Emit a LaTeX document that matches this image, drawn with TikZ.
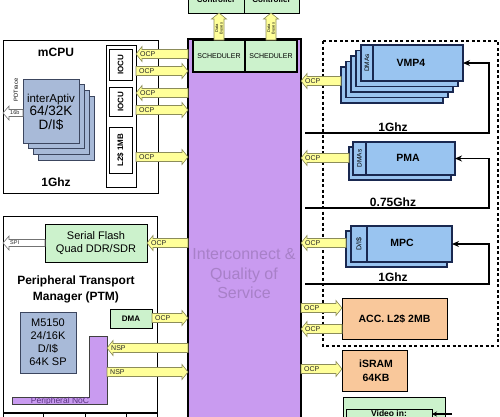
\documentclass[tikz,border=0pt]{standalone}
\usepackage{fontspec}
\setmainfont{Liberation Sans}
\usetikzlibrary{arrows.meta}
\definecolor{ylw}{RGB}{255,255,153}
\definecolor{ylwb}{RGB}{140,140,90}
\definecolor{grn}{RGB}{204,242,204}
\definecolor{prp}{RGB}{201,155,240}
\definecolor{prptxt}{RGB}{168,128,200}
\definecolor{noctxt}{RGB}{90,50,130}
\definecolor{blu}{RGB}{153,196,240}
\definecolor{blud}{RGB}{25,40,80}
\definecolor{sblu}{RGB}{168,186,216}
\definecolor{sblud}{RGB}{60,70,95}
\definecolor{org}{RGB}{249,200,155}
\newcommand\fsz[2]{\fontsize{#1}{#2}\selectfont}
\newcommand\arrR[5]{%
 \filldraw[blk] (#2,{#4-4.5}) -- ({#3-6},{#4-4.5}) -- ({#3-6},{#4-7.5}) -- (#3,#4) -- ({#3-6},{#4+7.5}) -- ({#3-6},{#4+4.5}) -- (#2,{#4+4.5}) -- cycle;
 \node[arrlbl] (#1) at ({#2+3},#4) {#5};}
\newcommand\arrL[5]{%
 \filldraw[blk] (#2,#4) -- ({#2+6},{#4-7.5}) -- ({#2+6},{#4-4.5}) -- (#3,{#4-4.5}) -- (#3,{#4+4.5}) -- ({#2+6},{#4+4.5}) -- ({#2+6},{#4+7.5}) -- cycle;
 \node[arrlbl] (#1) at ({#2+4},#4) {#5};}
\newcommand\garrL[5]{%
 \filldraw[gblk] (#2,#4) -- ({#2+6},{#4-7}) -- ({#2+6},{#4-3.5}) -- (#3,{#4-3.5}) -- (#3,{#4+3.5}) -- ({#2+6},{#4+3.5}) -- ({#2+6},{#4+7}) -- cycle;
 \node[arrlbl,font=\fsz{5.5}{6}] (#1) at ({#2+7},#4) {#5};}
\newcommand\arrU[4]{%
 \filldraw[blk] ({#2-5},#3) -- ({#2-5},{#4+6}) -- ({#2-7.5},{#4+6}) -- (#2,#4) -- ({#2+7.5},{#4+6}) -- ({#2+5},{#4+6}) -- ({#2+5},#3) -- cycle;
 \node[rotate=90,align=center,inner sep=0pt,font=\fsz{4}{4.5}] (#1) at (#2,{(#3+#4)/2+2}) {Data\\Buses};}
\begin{document}
\begin{tikzpicture}[x=1pt,y=-1pt,
  box/.style={draw=black,line width=1pt,anchor=north west,inner sep=0pt,outer sep=0pt},
  blk/.style={fill=ylw,draw=ylwb,line width=0.6pt},
  gblk/.style={fill=white,draw=black!55,line width=0.6pt},
  arrlbl/.style={anchor=west,inner sep=0pt,font=\fsz{7}{8},text=black!85},
  vstk/.style={box,fill=blu,draw=blud,line width=1.1pt},
  istk/.style={box,fill=sblu,draw=sblud,line width=1pt},
  fb/.style={line width=1.3pt,-{Stealth[length=7pt,width=6pt]}},
  big/.style={font=\bfseries\fsz{12}{14},inner sep=0pt},
  mid/.style={font=\bfseries\fsz{10.5}{14},inner sep=0pt,align=center}]
\useasboundingbox (0,0) rectangle (500,416);

% top memory controllers
\node[box,fill=grn,minimum width=56pt,minimum height=28pt] (mc1) at (188,-15) {};
\node[box,fill=grn,minimum width=55pt,minimum height=28pt] (mc2) at (244,-15) {};
\node[font=\bfseries\fsz{8}{9},anchor=base,inner sep=0pt] (mc1t) at (216,2) {Controller};
\node[font=\bfseries\fsz{8}{9},anchor=base,inner sep=0pt] (mc2t) at (271.5,2) {Controller};

% interconnect
\node[box,fill=prp,line width=1.2pt,minimum width=113pt,minimum height=400pt] (ic) at (188,39) {};
\node[font=\fsz{16}{19.5},text=prptxt,align=center,inner sep=0pt] (ict) at (244,274) {Interconnect \&\\Quality of\\Service};
\node[box,fill=grn,line width=1.3pt,minimum width=52pt,minimum height=32pt,font=\fsz{7}{8}] (s1) at (193,40) {SCHEDULER};
\node[box,fill=grn,line width=1.3pt,minimum width=52pt,minimum height=32pt,font=\fsz{7}{8}] (s2) at (245,40) {SCHEDULER};
\arrU{db1}{219}{40}{13}
\arrU{db2}{271}{40}{13}

% mCPU
\node[box,minimum width=155pt,minimum height=153pt] (mcpu) at (3,40) {};
\node[big] (mcput) at (56,52) {mCPU};
\node[big] (mcpuf) at (56,182) {1Ghz};
\foreach \i in {3,2,1} \node[istk,minimum width=56pt,minimum height=64pt] (ia\i) at ({23+5.3*\i},{79+5.7*\i}) {};
\node[istk,minimum width=56pt,minimum height=64pt] (ia) at (23,79) {};
\node[inner sep=0pt,font=\fsz{13.5}{13.5},align=center] (iat) at (51,112) {{\fsz{11.5}{13}interAptiv}\\64/32K\\D/I\$};
\node[rotate=90,inner sep=0pt,font=\fsz{5.8}{6}] (pdt) at (16,90) {PDTrace};
\garrL{b16}{3}{23}{113}{16b}
\node[box,line width=0.8pt,minimum width=30pt,minimum height=142pt] (iob) at (106,45) {};
\node[box,line width=0.8pt,minimum width=23pt,minimum height=31pt] (io1) at (109,49) {};
\node[box,line width=0.8pt,minimum width=23pt,minimum height=29pt] (io2) at (109,87) {};
\node[box,line width=0.8pt,minimum width=23pt,minimum height=46pt] (l2) at (109,127) {};
\node[rotate=90,font=\bfseries\fsz{8}{9},inner sep=0pt] (io1t) at (io1.center) {IOCU};
\node[rotate=90,font=\bfseries\fsz{8}{9},inner sep=0pt] (io2t) at (io2.center) {IOCU};
\node[rotate=90,font=\bfseries\fsz{8}{9},inner sep=0pt] (l2t) at (l2.center) {L2\$ 1MB};
\arrL{o1}{136}{188}{54}{OCP}
\arrR{o2}{136}{188}{71}{OCP}
\arrL{o3}{136}{188}{93}{OCP}
\arrR{o4}{136}{188}{110}{OCP}
\arrR{o5}{136}{188}{157}{OCP}

% right dashed region
\draw[line width=1.4pt,dash pattern=on 3pt off 2.5pt] (323,41) rectangle (498,346);
\foreach \i in {4,3,2,1} \node[vstk,minimum width=102pt,minimum height=36pt] (v\i) at ({361-5*\i},{45+5.5*\i}) {};
\node[vstk,minimum width=102pt,minimum height=36pt] (vmp) at (361,45) {};
\node[vstk,minimum width=12pt,minimum height=36pt] (vdma) at (361,45) {};
\node[rotate=90,inner sep=0pt,font=\fsz{6.5}{7}] (vdmat) at (vdma.center) {DMAs};
\node[mid] (vmpt) at (411,63) {VMP4};

\node[vstk,minimum width=102pt,minimum height=33pt] (p1) at (349,147) {};
\node[vstk,minimum width=102pt,minimum height=33pt] (pma) at (353,142) {};
\node[vstk,minimum width=13pt,minimum height=33pt] (pdma) at (353,142) {};
\node[rotate=90,inner sep=0pt,font=\fsz{6.5}{7}] (pdmat) at (pdma.center) {DMAs};
\node[mid] (pmat) at (408,158) {PMA};

\node[vstk,minimum width=101pt,minimum height=36pt] (m1) at (346,231) {};
\node[vstk,minimum width=101pt,minimum height=36pt] (mpc) at (351,226) {};
\node[vstk,minimum width=16pt,minimum height=36pt] (mdi) at (351,226) {};
\node[rotate=90,inner sep=0pt,font=\fsz{7}{8}] (mdit) at (mdi.center) {D/I\$};
\node[mid] (mpct) at (402,243) {MPC};

\coordinate (g1) at (305,133);
\coordinate (g2) at (305,208);
\coordinate (g3) at (305,284);
\draw[fb] (g1) -- ++(184,0) |- (vmp.east);
\draw[fb] (g2) -- ++(184,0) |- (pma.east);
\draw[fb] (g3) -- ++(184,0) |- (mpc.east);
\node[big] (f1) at (393,127) {1Ghz};
\node[big] (f2) at (393,202) {0.75Ghz};
\node[big] (f3) at (393,277) {1Ghz};

\arrL{r1}{301}{341}{81}{OCP}
\arrL{r2}{301}{349}{158}{OCP}
\arrL{r3}{301}{346}{243}{OCP}

\node[box,fill=org,minimum width=105pt,minimum height=41pt] (acc) at (342,298) {};
\node[mid] (acct) at (acc.center) {ACC. L2\$ 2MB};
\arrR{r4}{301}{342}{308}{OCP}
\arrL{r5}{301}{342}{329}{OCP}
\node[box,fill=org,minimum width=65pt,minimum height=41pt] (isr) at (342,350) {};
\node[mid] (isrt) at (376,370.5) {iSRAM\\64KB};
\arrR{r6}{301}{342}{369}{OCP}

\node[box,fill=grn,minimum width=102pt,minimum height=30pt] (vid) at (343,397) {};
\node[box,fill=grn,minimum width=86pt,minimum height=20pt] (vidin) at (346,409) {};
\node[font=\bfseries\fsz{8.5}{9},anchor=north,inner sep=0pt] (vidt) at (389,410) {Video in:};
\coordinate (vv) at (452,414);
\draw[line width=1.1pt,-{Stealth[length=5pt,width=5pt]}] (vv) -- (vv -| vidin.east);

% PTM
\node[box,minimum width=154pt,minimum height=196pt] (ptm) at (3,216) {};
\node[box,fill=grn,minimum width=102pt,minimum height=38pt,font=\fsz{11}{13},align=center] (sf) at (45,224) {Serial Flash\\Quad DDR/SDR};
\garrL{spi}{3}{45}{243}{SPI}
\arrL{o6}{147}{188}{243}{OCP}
\node[font=\bfseries\fsz{12}{16},align=center,inner sep=0pt] (ptmt) at (76,289) {Peripheral Transport\\Manager (PTM)};
\node[box,fill=sblu,draw=sblud,minimum width=56pt,minimum height=61pt,font=\fsz{11}{13},align=center] (m5) at (20,312) {M5150\\24/16K\\D/I\$\\64K SP};
\node[box,fill=grn,minimum width=42pt,minimum height=19pt,font=\bfseries\fsz{8}{9}] (dma) at (110,309) {DMA};
\arrR{o7}{152}{188}{318}{OCP}
\filldraw[fill=prp,draw=black!75,line width=0.8pt] (89,336) -- (107,336) -- (107,404) -- (12,404) -- (12,397) -- (89,397) -- cycle;
\node[font=\fsz{8.5}{9},text=noctxt,inner sep=0pt] (noc) at (60,401) {Peripheral NoC};
\arrL{n1}{107}{188}{348}{NSP}
\arrR{n2}{107}{188}{372}{NSP}
\node[box,minimum width=40pt,minimum height=20pt] (c1) at (3,413) {};
\node[box,minimum width=42pt,minimum height=20pt] (c2) at (43,413) {};
\node[box,minimum width=41pt,minimum height=20pt] (c3) at (85,413) {};
\node[box,minimum width=31pt,minimum height=20pt] (c4) at (126,413) {};
\end{tikzpicture}
\end{document}
